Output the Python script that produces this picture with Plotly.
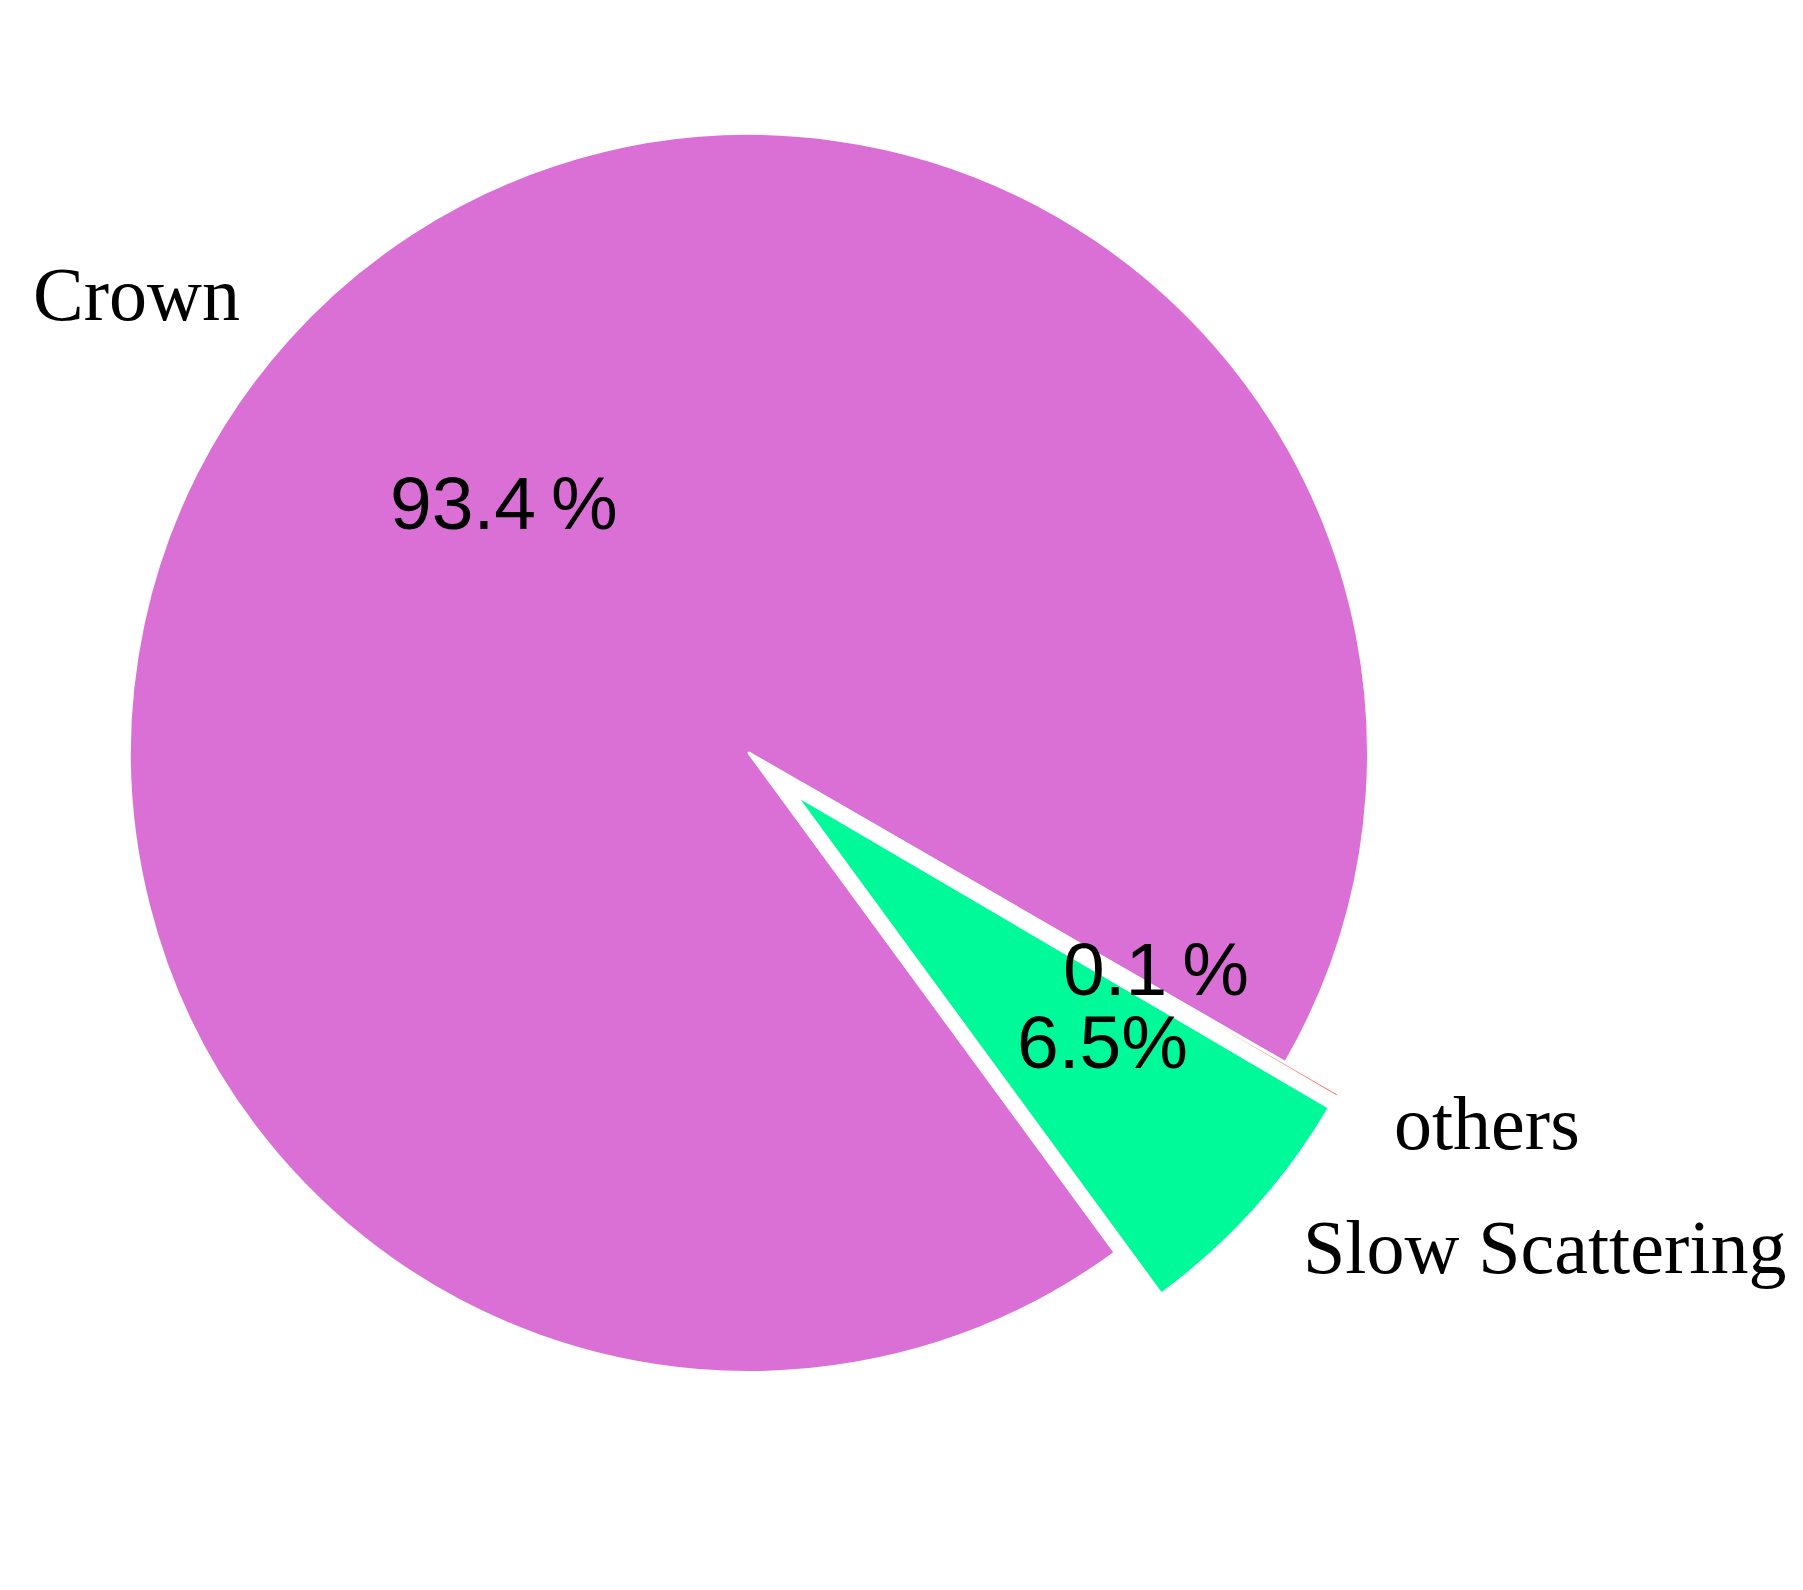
import math
import plotly.graph_objects as go

# ---- data ----
labels = ["Crown", "Slow Scattering", "others"]
values = [93.4, 6.5, 0.1]
pct_labels = ["93.4\u2009%", "6.5%", "0.1\u2009%"]
explode = [0.0, 0.1, 0.1]
colors = ["#DA70D6", "#00FA9A", "#FF6347"]

# ---- layout geometry ----
W, H = 1803, 1590
OFF = 8                            # default page body margin in browser
CX, CY, R = 749 - OFF, 753 - OFF, 619.5   # pie centre / radius in figure pixels
START = -30.0                      # start angle (math degrees, counterclockwise)
LABEL_DIST, PCT_DIST = 1.1, 0.6

total = sum(values)
maxpull = max(explode)
hb = R * (1 + maxpull)
dom_x = [(CX - hb) / W, (CX + hb) / W]
dom_y = [1 - (CY + hb) / H, 1 - (CY - hb) / H]

# plotly counterclockwise: first slice spans clock angles [rot, rot + v0]
v0deg = 360 * values[0] / total
rot = 90 - START - v0deg
rot = ((rot + 180) % 360) - 180

fig = go.Figure(go.Pie(
    labels=labels, values=values, sort=False, direction="counterclockwise",
    rotation=rot, pull=explode, textinfo="none", hoverinfo="none",
    marker=dict(colors=colors, line=dict(color="white", width=3)),
    domain=dict(x=dom_x, y=dom_y), showlegend=False,
))

annotations = []
acc = 0.0
for lab, v, pct, ex in zip(labels, values, pct_labels, explode):
    a0 = START + 360 * acc / total
    acc += v
    a1 = START + 360 * acc / total
    mid = math.radians((a0 + a1) / 2)
    c, s = math.cos(mid), math.sin(mid)
    lx = CX + (ex + LABEL_DIST) * R * c
    ly = CY - (ex + LABEL_DIST) * R * s
    annotations.append(dict(
        x=lx / W, y=1 - ly / H, xref="paper", yref="paper", text=lab,
        showarrow=False, xanchor="right" if c < 0 else "left", yanchor="middle",
        yshift=4,
        font=dict(family="Liberation Serif", size=76, color="black"),
    ))
    px = CX + (ex + PCT_DIST) * R * c
    py = CY - (ex + PCT_DIST) * R * s
    annotations.append(dict(
        x=px / W, y=1 - py / H, xref="paper", yref="paper", text=pct,
        showarrow=False, xanchor="center", yanchor="middle", xshift=32, yshift=2,
        font=dict(family="Liberation Sans", size=75, color="black"),
    ))

fig.update_layout(
    width=W, height=H, margin=dict(l=0, r=0, t=0, b=0),
    paper_bgcolor="white", plot_bgcolor="white",
    annotations=annotations,
)
fig.write_html("out.html")
